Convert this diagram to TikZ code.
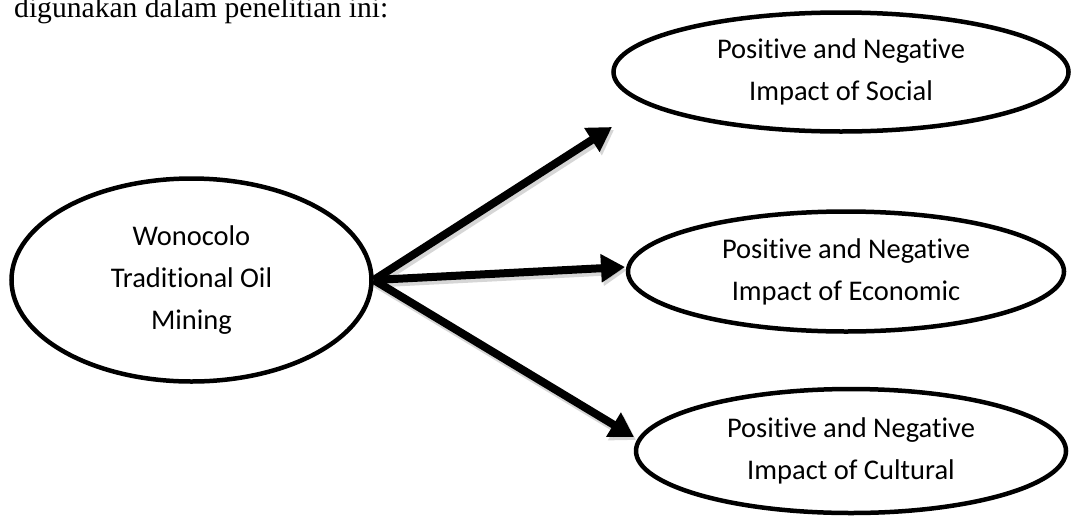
\documentclass[tikz,border=0pt]{standalone}
\usepackage{fontspec}
\setmainfont{Liberation Serif}
\newfontfamily\calib[Ligatures=NoCommon]{Carlito}
\usetikzlibrary{shapes.geometric,arrows.meta}
\tikzset{
  oval/.style={ellipse, draw=black, line width=4.5pt, inner sep=0pt, align=center,
    font=\calib\fontsize{28.5}{42}\selectfont},
  bigarrow/.style={line width=8pt, -{Triangle[length=24pt,width=27pt]}},
  shadowarrow/.style={line width=9pt, draw=black!35, opacity=0.45, -{Triangle[length=24pt,width=28pt]}},
}
\begin{document}
\begin{tikzpicture}[x=1pt,y=-1pt]
\useasboundingbox (0,0) rectangle (1075,517);
\fill[white] (0,0) rectangle (1075,517);
\node[anchor=base west, inner sep=0pt, font=\fontsize{29.6}{36}\selectfont] (head) at (14,17) {digunakan dalam penelitian ini:};

\node[oval, minimum width=360pt, minimum height=203pt] (L) at (191.5,280) {Wonocolo\\Traditional Oil\\Mining};
\node[oval, minimum width=455pt, minimum height=119pt] (S) at (841,72) {Positive and Negative\\Impact of Social};
\node[oval, minimum width=436pt, minimum height=120pt] (E) at (846,271.5) {Positive and Negative\\Impact of Economic};
\node[oval, minimum width=430pt, minimum height=124pt] (C) at (851,451) {Positive and Negative\\Impact of Cultural};

\coordinate (t1) at (612,127);
\coordinate (t2) at (625,267);
\coordinate (t3) at (634,437);

\draw[shadowarrow] ([shift={(2,3)}]L.east) -- ([shift={(2,3)}]t1);
\draw[shadowarrow] ([shift={(2,3)}]L.east) -- ([shift={(2,3)}]t2);
\draw[shadowarrow] ([shift={(2,3)}]L.east) -- ([shift={(2,3)}]t3);

\draw[bigarrow] (L.east) -- (t1);
\draw[bigarrow] (L.east) -- (t2);
\draw[bigarrow] (L.east) -- (t3);
\end{tikzpicture}
\end{document}
